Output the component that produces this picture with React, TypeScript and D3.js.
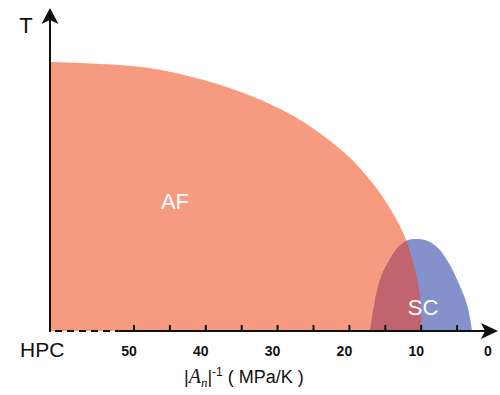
import React, { useEffect, useRef } from 'react';
import * as d3 from 'd3';

// AF boundary: |A_n|^-1 (MPa/K) vs T (arb. units, 0-100)
const afPressure = [61.7, 49.2, 42.2, 35.2, 29.7, 25.1, 20.3, 16.7, 13.9, 12.5, 11.6, 10.6, 10.2, 9.9];
const afTemp = [100, 98.2, 94.6, 88.9, 82.6, 75.4, 65.3, 54.7, 43.6, 36.3, 30.0, 19.8, 13.3, 0];

// SC dome
const scPressure = [17.1, 16.4, 15.5, 14.35, 13.2, 11.85, 10.85, 9.45, 7.8, 6.25, 4.85, 3.6, 2.9];
const scTemp = [0, 11.9, 20.8, 26.8, 31.2, 33.8, 34.2, 33.8, 31.2, 25.7, 18.2, 9.7, 0];

const majorTicks = [50, 45, 40, 35, 30, 25, 20, 15, 10, 5];
const tickLabels = ['50', '40', '30', '20', '10', '0'];

// high-pressure part of the axis drawn dashed
const dashFrom = 61;
const dashTo = 52.2;

const FONT = "Arial, 'Liberation Sans', sans-serif";
const SERIF = "'Liberation Serif', 'Times New Roman', serif";

export default function App() {
  const svgRef = useRef<SVGSVGElement>(null);

  useEffect(() => {
    if (!svgRef.current) return;
    const svg = d3.select(svgRef.current);
    svg.selectAll('*').remove();

    const x = d3.scaleLinear().domain([50, 0]).range([134, 493]);
    const y = d3.scaleLinear().domain([0, 100]).range([331, 62]);
    const axisX = x(61.7);
    const axisY = y(0);

    const af = afPressure.map((p, i) => ({ p, t: afTemp[i] }));
    const sc = scPressure.map((p, i) => ({ p, t: scTemp[i] }));

    const area = d3.area<{ p: number; t: number }>()
      .x(d => x(d.p))
      .y0(axisY)
      .y1(d => y(d.t))
      .curve(d3.curveCatmullRom.alpha(0.5));

    const defs = svg.append('defs');
    defs.append('clipPath').attr('id', 'afClip')
      .append('path').attr('d', area(af));

    svg.append('path').attr('d', area(af)).attr('fill', '#F69B80');
    svg.append('path').attr('d', area(sc)).attr('fill', '#8591CB');
    svg.append('path').attr('d', area(sc)).attr('fill', '#C1646F')
      .attr('clip-path', 'url(#afClip)');

    // labels in regions
    svg.append('text').attr('x', 175).attr('y', 209).attr('text-anchor', 'middle')
      .attr('font-family', FONT).attr('font-size', 22).attr('fill', 'white').text('AF');
    svg.append('text').attr('x', 423).attr('y', 315).attr('text-anchor', 'middle')
      .attr('font-family', FONT).attr('font-size', 22).attr('fill', 'white').text('SC');

    // y axis
    svg.append('line').attr('x1', axisX).attr('x2', axisX).attr('y1', axisY + 1).attr('y2', 20)
      .attr('stroke', '#111').attr('stroke-width', 2);
    svg.append('path')
      .attr('d', `M${axisX},8 L${axisX + 8.5},24 L${axisX},20 L${axisX - 8.5},24 Z`)
      .attr('fill', '#111');

    // x axis: dashed then solid
    svg.append('line').attr('x1', x(dashFrom)).attr('x2', x(dashTo)).attr('y1', axisY).attr('y2', axisY)
      .attr('stroke', '#111').attr('stroke-width', 2).attr('stroke-dasharray', '7,5');
    svg.append('line').attr('x1', x(dashTo)).attr('x2', 488).attr('y1', axisY).attr('y2', axisY)
      .attr('stroke', '#111').attr('stroke-width', 2);
    svg.append('path')
      .attr('d', `M498,${axisY} L481,${axisY - 8} L485,${axisY} L481,${axisY + 8} Z`)
      .attr('fill', '#111');

    svg.selectAll('.tick').data(majorTicks).enter().append('line')
      .attr('x1', d => x(d)).attr('x2', d => x(d))
      .attr('y1', axisY).attr('y2', axisY - 6)
      .attr('stroke', '#111').attr('stroke-width', 2);

    svg.selectAll('.tlabel').data(tickLabels).enter().append('text')
      .attr('x', d => x(+d) - 5).attr('y', 356).attr('text-anchor', 'middle')
      .attr('font-family', FONT).attr('font-size', 14).attr('font-weight', 'bold')
      .attr('fill', '#111').text(d => d);

    svg.append('text').attr('x', 26).attr('y', 33).attr('text-anchor', 'middle')
      .attr('font-family', FONT).attr('font-size', 22).attr('fill', '#111').text('T');
    svg.append('text').attr('x', 20).attr('y', 357)
      .attr('font-family', FONT).attr('font-size', 21).attr('fill', '#111').text('HPC');

    // x axis title
    const title = svg.append('text').attr('x', 184).attr('y', 383)
      .attr('font-family', FONT).attr('font-size', 18).attr('fill', '#111');
    title.append('tspan').text('|');
    title.append('tspan').attr('font-family', SERIF)
      .attr('font-style', 'italic').attr('font-size', 20).text('A');
    title.append('tspan').attr('font-family', SERIF)
      .attr('font-style', 'italic').attr('font-size', 13).attr('dy', 4).text('n');
    title.append('tspan').attr('dy', -4).text('|');
    title.append('tspan').attr('font-size', 12).attr('dy', -7).text('-1');
    title.append('tspan').attr('dy', 7).text('\u00a0( MPa/K )');
  }, []);

  return (
    <svg ref={svgRef} width={500} height={395}
      style={{ position: 'absolute', left: 0, top: 0, background: 'white' }} />
  );
}
